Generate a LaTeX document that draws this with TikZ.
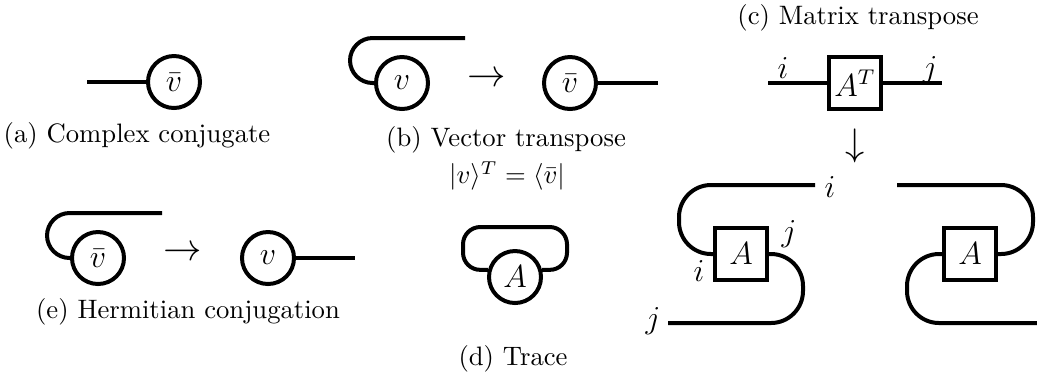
\documentclass[tikz,border=0pt]{standalone}
\usetikzlibrary{calc}
\begin{document}
\begin{tikzpicture}[x=0.375pt,y=-0.375pt,
  vecnode/.style={circle,draw,line width=1.5pt,minimum size=19.5pt,inner sep=0pt,font=\large},
  matnode/.style={rectangle,draw,line width=1.5pt,minimum size=19.5pt,inner sep=0pt,font=\large},
  wire/.style={line width=1.5pt},
  lab/.style={inner sep=0pt,font=\large},
  arr/.style={inner sep=0pt,font=\Large},
  captext/.style={inner sep=0pt,font=\normalsize}]
\useasboundingbox (0,0) rectangle (1037,374);
% (a)
\node[vecnode] (a) at (174,82) {$\bar v$};
\coordinate (aL) at (87,82);
\draw[wire] (aL) -- (a.west);
\node[captext] (acap) at (137,136) {(a) Complex conjugate};
% (b)
\node[vecnode] (b1) at (402,83) {$v$};
\coordinate (b1e) at (465,38);
\draw[wire,rounded corners=8.5pt] (b1.west) -- (350,83) -- (350,38) -- (b1e);
\node[arr] (barrow) at (487,79) {$\to$};
\node[vecnode] (b2) at (570,83) {$\bar v$};
\coordinate (b2e) at (658,83);
\draw[wire] (b2.east) -- (b2e);
\node[captext] (bcap) at (506,140) {(b) Vector transpose};
\node[captext] (bform) at (507,176) {$|v\rangle^T=\langle\bar v|$};
% (c) top
\node[captext] (ccap) at (858,18) {(c) Matrix transpose};
\node[matnode] (AT) at (855,83) {$A^T$};
\coordinate (cL) at (768,83);
\coordinate (cR) at (942,83);
\draw[wire] (cL) -- (AT.west);
\draw[wire] (AT.east) -- (cR);
\node[lab] (ci) at (783,68) {$i$};
\node[lab] (cj) at (930,70) {$j$};
\node[arr] (darrow) at (855,146) {$\downarrow$};
% (c) lower left
\node[matnode] (A1) at (741,254) {$A$};
\coordinate (A1t) at (815,185);
\coordinate (A1b) at (668,323);
\draw[wire,rounded corners=12pt] (A1.west) -- (679,254) -- (679,185) -- (A1t);
\draw[wire,rounded corners=12pt] (A1.east) -- (803,254) -- (803,323) -- (A1b);
\node[lab] (li1) at (830,187) {$i$};
\node[lab] (lj1) at (653,321) {$j$};
\node[lab] (lj2) at (789,234) {$j$};
\node[lab] (li2) at (699,271) {$i$};
% (c) lower right
\node[matnode] (A2) at (970,254) {$A$};
\coordinate (A2t) at (897,185);
\coordinate (A2b) at (1037,323);
\draw[wire,rounded corners=12pt] (A2t) -- (1033,185) -- (1033,254) -- (A2.east);
\draw[wire,rounded corners=12pt] (A2.west) -- (907,254) -- (907,323) -- (A2b);
% (d)
\node[vecnode] (D) at (515,277) {$A$};
\draw[wire,rounded corners=6.5pt] (D.165) -- (463,270) -- (463,227) -- (567,227) -- (567,270) -- (D.15);
\node[captext] (dcap) at (513,359) {(d) Trace};
% (e)
\node[vecnode] (e1) at (98,258) {$\bar v$};
\coordinate (e1e) at (162,213);
\draw[wire,rounded corners=8.5pt] (e1.west) -- (47,258) -- (47,213) -- (e1e);
\node[arr] (earrow) at (183,253) {$\to$};
\node[vecnode] (e2) at (268,258) {$v$};
\coordinate (e2e) at (355,258);
\draw[wire] (e2.east) -- (e2e);
\node[captext] (ecap) at (188,312) {(e) Hermitian conjugation};
\end{tikzpicture}
\end{document}
